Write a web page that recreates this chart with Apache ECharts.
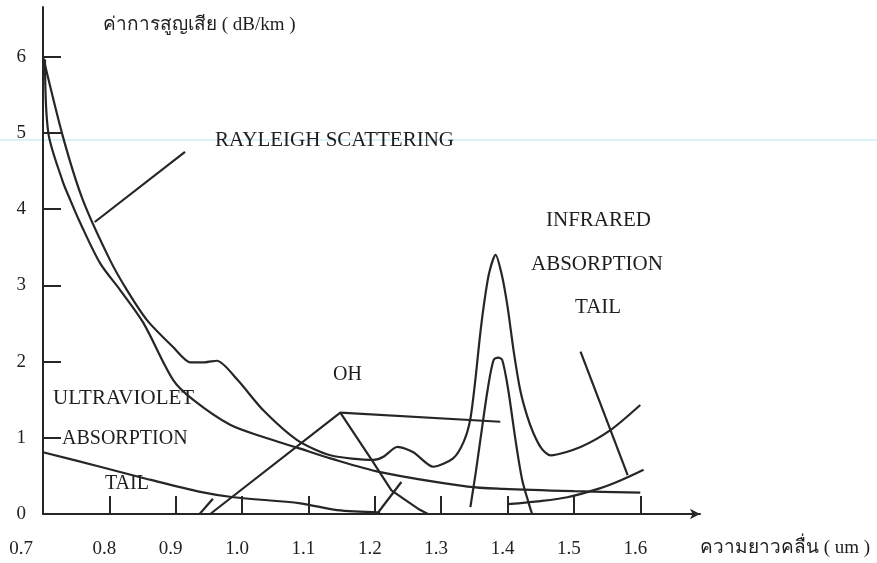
<!DOCTYPE html>
<html>
<head>
<meta charset="utf-8">
<script src="https://cdn.jsdelivr.net/npm/echarts@6/dist/echarts.min.js"></script>
<style>
  html, body { margin: 0; padding: 0; background: #fff; }
  #loss-chart { width: 877px; height: 563px; }
</style>
</head>
<body>
<div id="loss-chart"></div>
<script>
// wavelength (um) / loss (dB/km) points
var totalLoss = [
  [0.700, 6.00], [0.730, 4.95], [0.760, 4.12], [0.801, 3.33], [0.827, 2.93],
  [0.857, 2.54], [0.896, 2.19], [0.922, 1.99], [0.944, 1.99], [0.962, 2.01],
  [0.993, 1.76], [1.032, 1.36], [1.083, 0.97], [1.133, 0.77], [1.198, 0.71],
  [1.213, 0.75], [1.234, 0.88], [1.258, 0.81], [1.288, 0.62], [1.318, 0.73],
  [1.334, 0.95], [1.344, 1.25], [1.352, 1.80], [1.358, 2.30], [1.364, 2.72],
  [1.372, 3.15], [1.382, 3.40], [1.391, 3.15], [1.400, 2.72], [1.409, 2.15],
  [1.419, 1.63], [1.429, 1.30], [1.439, 1.06], [1.452, 0.85], [1.465, 0.77],
  [1.510, 0.88], [1.555, 1.10], [1.600, 1.43]
];
var rayleigh = [
  [0.703, 5.96], [0.708, 5.00], [0.729, 4.38], [0.741, 4.12], [0.756, 3.82],
  [0.786, 3.29], [0.816, 2.94], [0.851, 2.51], [0.896, 1.76], [0.926, 1.50],
  [0.982, 1.17], [1.032, 1.01], [1.083, 0.87], [1.133, 0.73], [1.208, 0.55],
  [1.340, 0.36], [1.394, 0.33], [1.500, 0.30], [1.600, 0.28]
];
var uvTail = [
  [0.700, 0.81], [0.786, 0.62], [0.861, 0.45], [0.937, 0.29], [0.987, 0.22],
  [1.088, 0.14], [1.143, 0.05], [1.208, 0.02]
];
var irTail = [
  [1.400, 0.13], [1.450, 0.17], [1.490, 0.22], [1.540, 0.34], [1.570, 0.44], [1.605, 0.58]
];
var ohPeak = [
  [1.344, 0.09], [1.352, 0.54], [1.359, 0.97], [1.370, 1.63], [1.379, 2.02],
  [1.386, 2.05], [1.392, 2.02], [1.401, 1.63], [1.412, 0.97], [1.422, 0.45],
  [1.432, 0.14], [1.437, 0.00]
];
var ohTriangle = [
  [0.952, 0.00], [1.148, 1.33], [1.196, 0.70], [1.225, 0.31], [1.265, 0.07], [1.280, 0.00]
];
var ohShelf = [[1.148, 1.33], [1.389, 1.21]];
var ohSmall = [[0.936, 0.00], [0.956, 0.20]];
var ohSmall2 = [[1.205, 0.02], [1.240, 0.42]];
var rayleighPointer = [[0.778, 3.83], [0.914, 4.75]];
var irPointer = [[1.510, 2.13], [1.581, 0.51]];

var xTicks = { min: 0.7, max: 1.69, step: 0.1 };
var yTicks = { min: 0, max: 6.65, step: 1 };

var chart = echarts.init(document.getElementById('loss-chart'));
var serif = '"Liberation Serif", "DejaVu Serif", serif';
var ink = '#262626';

function curve(data, smooth) {
  return {
    type: 'line', data: data, smooth: smooth, symbol: 'none',
    lineStyle: { color: ink, width: 2.2 }, silent: true, animation: false
  };
}

function label(text, x, y, size) {
  return {
    type: 'text', silent: true, x: x, y: y,
    style: { text: text, font: size + 'px ' + serif, fill: '#1e1e1e', verticalAlign: 'middle' }
  };
}

var option = {
  backgroundColor: '#fff',
  animation: false,
  grid: { left: 43, right: 177, top: 7, bottom: 49 },
  xAxis: {
    type: 'value', min: xTicks.min, max: xTicks.max, interval: xTicks.step,
    axisLine: { lineStyle: { color: ink, width: 2 }, symbol: ['none', 'arrow'], symbolSize: [8, 10] },
    axisTick: { inside: true, length: 18, lineStyle: { color: ink, width: 2 } },
    splitLine: { show: false },
    axisLabel: {
      color: '#222', fontFamily: serif, fontSize: 19, margin: 26,
      padding: [0, 10, 0, 0],
      showMaxLabel: false, alignMinLabel: 'right',
      formatter: function (v) { return v.toFixed(1); }
    }
  },
  yAxis: {
    type: 'value', min: yTicks.min, max: yTicks.max, interval: yTicks.step,
    axisLine: { show: true, lineStyle: { color: ink, width: 2 } },
    axisTick: { show: true, inside: true, length: 18, lineStyle: { color: ink, width: 2 } },
    splitLine: { show: false },
    axisLabel: { color: '#222', fontFamily: serif, fontSize: 19, margin: 17, showMaxLabel: false }
  },
  graphic: [
    { type: 'line', silent: true, shape: { x1: 0, y1: 140, x2: 877, y2: 140 },
      style: { stroke: '#b5e3ef', lineWidth: 1 }, z: -1 },
    label('ค่าการสูญเสีย ( dB/km )', 103, 25, 19),
    label('RAYLEIGH SCATTERING', 215, 140, 21),
    label('INFRARED', 546, 220, 21),
    label('ABSORPTION', 531, 264, 21),
    label('TAIL', 575, 307, 21),
    label('OH', 333, 375, 20),
    label('ULTRAVIOLET', 53, 398, 21),
    label('ABSORPTION', 62, 439, 20),
    label('TAIL', 105, 484, 20),
    label('ความยาวคลื่น ( um )', 700, 548, 19)
  ],
  series: [
    curve(totalLoss, 0.25),
    curve(rayleigh, 0.3),
    curve(uvTail, 0.3),
    curve(irTail, 0.3),
    curve(ohPeak, 0.3),
    curve(ohTriangle, false),
    curve(ohShelf, false),
    curve(ohSmall, false),
    curve(ohSmall2, false),
    curve(rayleighPointer, false),
    curve(irPointer, false)
  ]
};
chart.setOption(option);
window.addEventListener('resize', function () { chart.resize(); });
</script>
</body>
</html>
